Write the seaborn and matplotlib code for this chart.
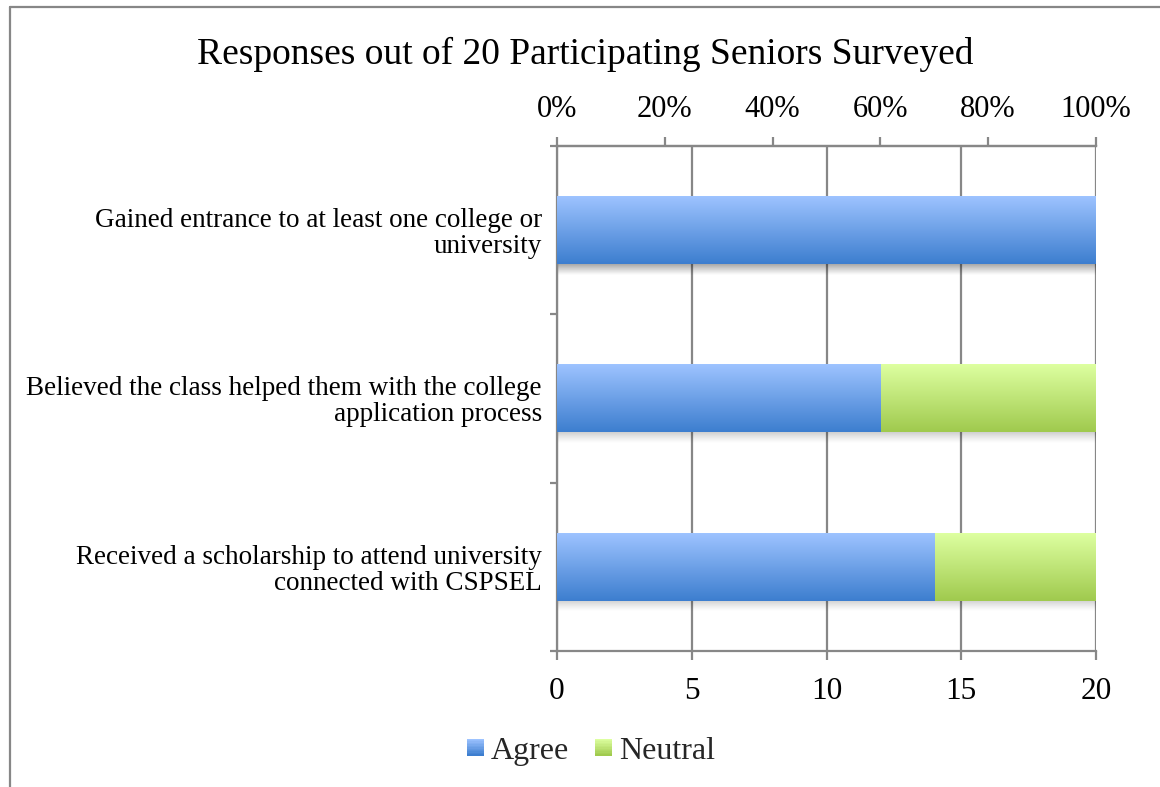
import numpy as np
import pandas as pd
import matplotlib
matplotlib.use("Agg")
import matplotlib.pyplot as plt
from matplotlib.lines import Line2D
from matplotlib.patches import Rectangle
from matplotlib.legend_handler import HandlerBase
import seaborn as sns

# ---- data ----
categories = [
    "Gained entrance to at least one college or\nuniversity",
    "Believed the class helped them with the college\napplication process",
    "Received a scholarship to attend university\nconnected with CSPSEL",
]
agree = [20, 12, 14]
neutral = [0, 8, 6]
series_names = ["Agree", "Neutral"]
count_ticks = [0, 5, 10, 15, 20]
pct_ticks = [0, 20, 40, 60, 80, 100]
total_surveyed = 20
title = "Responses out of 20 Participating Seniors Surveyed"

# ---- styling ----
BLUE_TOP, BLUE_BOT = "#9DC3FF", "#3D7ECF"
GREEN_TOP, GREEN_BOT = "#DDFFA0", "#A0CA4E"
AXIS_GRAY = "#878787"
FONT = "Liberation Serif"

sns.set_theme(style="white")
plt.rcParams["font.family"] = [FONT, "DejaVu Serif"]

df = pd.DataFrame({
    "category": categories,
    "Agree": agree,
    "Neutral": neutral,
})
df["Total"] = df["Agree"] + df["Neutral"]

fig = plt.figure(figsize=(11.6, 7.87), dpi=100)
ax = fig.add_axes([0.4802, 0.1728, 0.9448 - 0.4802, 0.8145 - 0.1728])

# stacked bars: full total in green, agree portion drawn over it in blue
sns.barplot(data=df, x="Total", y="category", orient="h", color=GREEN_BOT,
            width=0.4, ax=ax, zorder=3)
n_green = len(ax.patches)
sns.barplot(data=df, x="Agree", y="category", orient="h", color=BLUE_BOT,
            width=0.4, ax=ax, zorder=4)

ax.set_xlim(0, 20)
ax.set_ylim(len(categories) - 0.5, -0.5)


def vertical_gradient(c_top, c_bot, n=64):
    t = np.linspace(0, 1, n)[:, None]
    a = np.array(matplotlib.colors.to_rgb(c_top))
    b = np.array(matplotlib.colors.to_rgb(c_bot))
    return (a * (1 - t) + b * t)[:, None, :]


# replace flat fills with top-to-bottom gradients plus a soft drop shadow
shadow_h = 0.07
for i, p in enumerate(ax.patches):
    x0, w = p.get_x(), p.get_width()
    y0, h = p.get_y(), p.get_height()
    if w <= 0:
        p.set_visible(False)
        continue
    green = i < n_green
    top, bot = (GREEN_TOP, GREEN_BOT) if green else (BLUE_TOP, BLUE_BOT)
    p.set_facecolor("none")
    p.set_edgecolor("none")
    ax.imshow(vertical_gradient(top, bot), extent=(x0, x0 + w, y0 + h, y0),
              origin="upper", aspect="auto", zorder=p.get_zorder(),
              interpolation="bilinear")
    if green or (not green and df["Neutral"].iloc[i - n_green] == 0):
        # shadow under the full bar
        right = x0 + w
        sh = np.zeros((32, 1, 4))
        sh[:, 0, 3] = np.linspace(0.28, 0.0, 32) ** 1.3
        ax.imshow(sh, extent=(0.05, right + 0.08, y0 + h + shadow_h, y0 + h),
                  origin="upper", aspect="auto", zorder=2.5,
                  interpolation="bilinear")

ax.set_xlim(0, 20)
ax.set_ylim(len(categories) - 0.5, -0.5)

# grid and spines
ax.set_xticks(count_ticks)
ax.xaxis.grid(True, color=AXIS_GRAY, linewidth=1.6, zorder=1)
ax.yaxis.grid(False)
ax.set_axisbelow(True)
ax.spines["right"].set_visible(False)
for side in ["left", "bottom", "top"]:
    ax.spines[side].set_color(AXIS_GRAY)
    ax.spines[side].set_linewidth(1.6)

ax.set_xlabel("")
ax.set_ylabel("")
ax.tick_params(axis="x", which="major", direction="out", length=6.5,
               width=1.6, color=AXIS_GRAY, labelsize=22.5, pad=12,
               bottom=True, top=False, labelcolor="black")
ax.set_yticks(range(len(categories)))
ax.set_yticklabels(categories, fontsize=19.5, linespacing=1.05)
ax.tick_params(axis="y", which="major", length=0, pad=11, labelcolor="black")
ax.set_yticks([k - 0.5 for k in range(len(categories) + 1)], minor=True)
ax.tick_params(axis="y", which="minor", direction="out", length=5,
               width=1.6, color=AXIS_GRAY, left=True)

# percentage axis on top
sec = ax.secondary_xaxis(
    "top",
    functions=(lambda v: v / total_surveyed * 100,
               lambda v: v * total_surveyed / 100),
)
sec.set_xticks(pct_ticks)
sec.set_xticklabels([f"{v}%" for v in pct_ticks])
sec.spines["top"].set_color(AXIS_GRAY)
sec.spines["top"].set_linewidth(1.6)
sec.tick_params(axis="x", direction="out", length=6.5, width=1.6,
                color=AXIS_GRAY, labelsize=22, pad=9, labelcolor="black")

# title
fig.text(585 / 1160, 1 - 54 / 787, title, ha="center", va="center",
         fontsize=27, color="black")


# legend swatches drawn as small gradients
class GradientHandler(HandlerBase):
    def __init__(self, c_top, c_bot, steps=12):
        super().__init__()
        self.c_top, self.c_bot, self.steps = c_top, c_bot, steps

    def create_artists(self, legend, orig_handle, xdescent, ydescent,
                       width, height, fontsize, trans):
        side = min(width, height) * 0.97
        x = -xdescent + (width - side)
        y = -ydescent + (height - side) / 2
        cols = vertical_gradient(self.c_top, self.c_bot, self.steps)[:, 0, :]
        arts = []
        for k in range(self.steps):
            yy = y + side - (k + 1) * side / self.steps
            r = Rectangle((x, yy), side, side / self.steps + 0.3,
                          facecolor=cols[k], edgecolor="none",
                          transform=trans)
            arts.append(r)
        return arts


h_agree = Rectangle((0, 0), 1, 1)
h_neutral = Rectangle((0, 0), 1, 1)
fig.legend(
    [h_agree, h_neutral], series_names,
    handler_map={h_agree: GradientHandler(BLUE_TOP, BLUE_BOT),
                 h_neutral: GradientHandler(GREEN_TOP, GREEN_BOT)},
    loc="center", bbox_to_anchor=(591 / 1160, 1 - 751 / 787), ncol=2,
    frameon=False, fontsize=23, handlelength=0.55, handletextpad=0.22,
    columnspacing=0.8,
)

# outer chart border (left and top edges)
fig.add_artist(Line2D([10 / 1160, 10 / 1160], [0, 1 - 7 / 787],
                      transform=fig.transFigure, color=AXIS_GRAY, lw=1.6))
fig.add_artist(Line2D([10 / 1160, 1], [1 - 7 / 787, 1 - 7 / 787],
                      transform=fig.transFigure, color=AXIS_GRAY, lw=1.6))

fig.savefig("out.png", dpi=100)
